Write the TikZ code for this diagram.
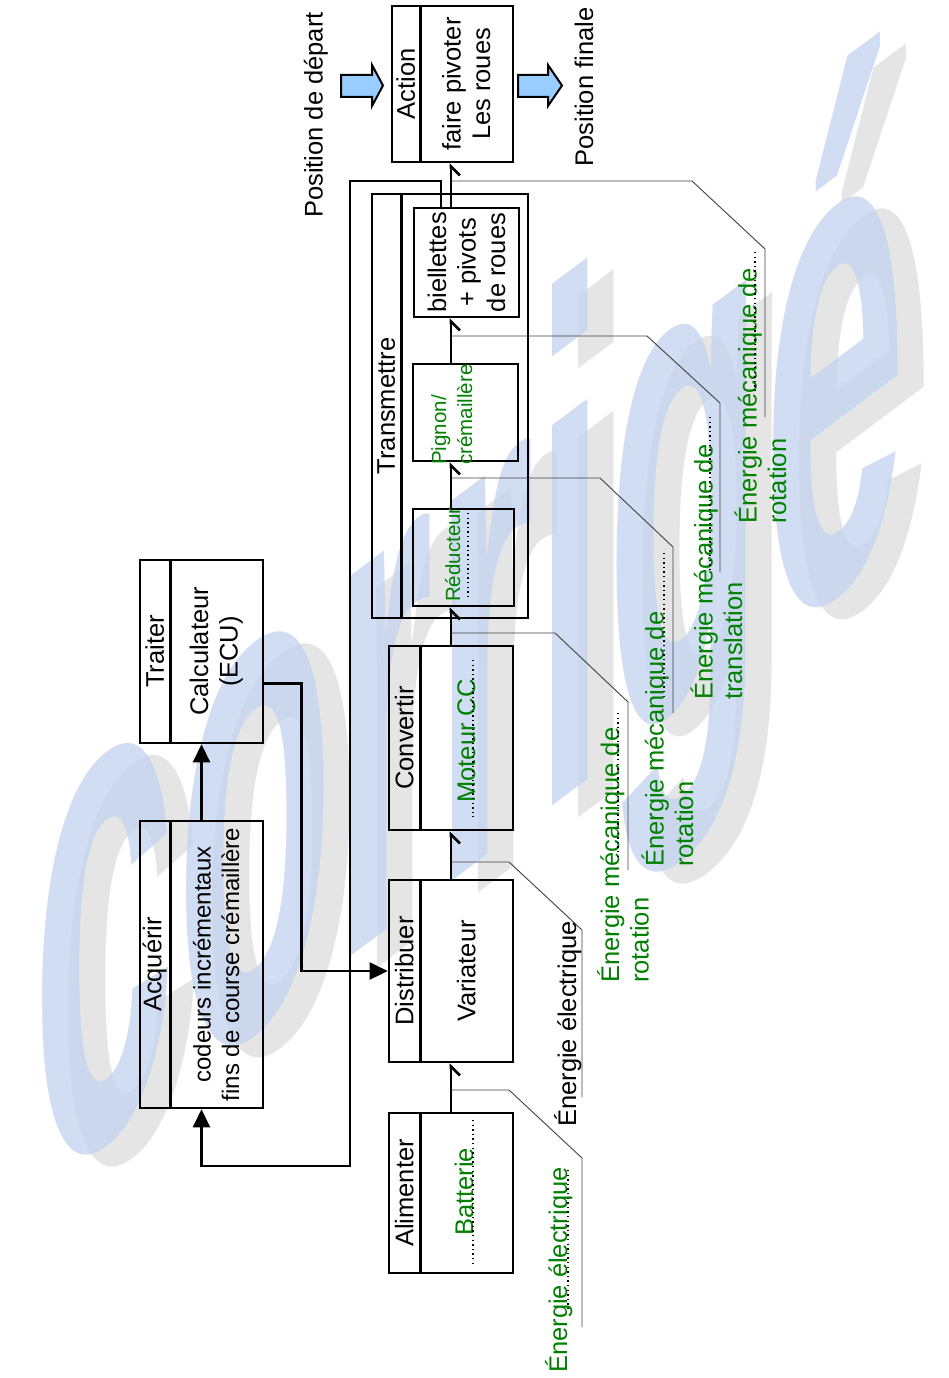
\documentclass[tikz,border=0pt]{standalone}
\usepackage{fontspec}
\setmainfont{Liberation Sans}
\usetikzlibrary{arrows.meta}
\definecolor{vertc}{RGB}{0,128,0}
\definecolor{bleuf}{RGB}{153,204,255}
\definecolor{bleuw}{RGB}{196,212,240}
\definecolor{grisw}{RGB}{222,222,222}

\begin{document}
\begin{tikzpicture}[x=1pt, y=-1pt, font=\fontsize{25.5}{29.5}\selectfont,
    boite/.style={draw, line width=2.6pt, inner sep=0pt},
    trait/.style={line width=2.6pt},
    titre/.style={rotate=90, inner sep=0pt},
    rep/.style={text=vertc},
    petit/.style={font=\fontsize{20.5}{26}\selectfont},
    flux/.style={line width=2.6pt, -{Straight Barb[right, length=9pt, width=18pt]}},
    info/.style={line width=2.6pt, -{Triangle[length=18pt, width=17pt]}},
    renvoi/.style={line width=0.9pt, black!75},
    blanc/.style={line width=1.3pt, dash pattern=on 1.3pt off 3.3pt},
    grosse/.style={draw, line width=2pt, fill=bleuf},
    filig/.style={yslant=0.75, xscale=0.86, yscale=2.4, font=\fontsize{300}{300}\selectfont\bfseries}]

    \useasboundingbox (0,0) rectangle (948,1378);

    % filigrane
    \node[filig, text=grisw, text opacity=0.8] (ombre) at (496,692) {corrigé};
    \node[filig, text=bleuw, text opacity=0.8] (filigrane) at (470,680) {corrigé};

    % chaine d'energie
    \node[boite, minimum width=121pt, minimum height=156pt] (act) at (452.5,84) {};
    \draw[trait] ([xshift=30pt]act.north west) -- ([xshift=30pt]act.south west);
    \node[titre] at ([xshift=15pt]act.west) {Action};
    \node[titre, align=center] at ([xshift=75.5pt]act.west) {faire pivoter\\Les roues};

    \node[boite, minimum width=156pt, minimum height=424pt] (trans) at (450,406) {};
    \draw[trait] ([xshift=31pt]trans.north west) -- ([xshift=31pt]trans.south west);
    \node[titre] at ([xshift=15.5pt]trans.west) {Transmettre};

    \node[boite, minimum width=105pt, minimum height=109pt] (biel) at (466.5,262.5) {};
    \node[titre, align=center] at (biel) {biellettes\\+ pivots\\de roues};
    \node[boite, minimum width=105pt, minimum height=97pt] (pign) at (465.5,412.5) {};
    \node[titre, rep, petit, align=left, anchor=base west] at (472,465) {Pignon/\\crémaillère};
    \node[boite, minimum width=101pt, minimum height=97pt] (redu) at (463.5,557.5) {};
    \node[titre, rep, petit, anchor=base west] at (460,602) {Réducteur};
    \draw[blanc] (468,513) -- (468,600);

    \node[boite, minimum width=124pt, minimum height=184pt] (conv) at (451,738) {};
    \draw[trait] ([xshift=33pt]conv.north west) -- ([xshift=33pt]conv.south west);
    \node[titre] at ([xshift=16.5pt]conv.west) {Convertir};
    \node[titre, rep, anchor=base] at (475,741) {Moteur CC};
    \draw[blanc] (473,660) -- (473,817);

    \node[boite, minimum width=124pt, minimum height=182pt] (dist) at (451,971) {};
    \draw[trait] ([xshift=33pt]dist.north west) -- ([xshift=33pt]dist.south west);
    \node[titre] at ([xshift=16.5pt]dist.west) {Distribuer};
    \node[titre] at ([xshift=78.5pt]dist.west) {Variateur};

    \node[boite, minimum width=124pt, minimum height=160pt] (alim) at (451,1193) {};
    \draw[trait] ([xshift=33pt]alim.north west) -- ([xshift=33pt]alim.south west);
    \node[titre] at ([xshift=16.5pt]alim.west) {Alimenter};
    \node[titre, rep, anchor=base] at (473,1192) {Batterie};
    \draw[blanc] (473,1120) -- (473,1263);

    % chaine d'information
    \node[boite, minimum width=123pt, minimum height=183pt] (trai) at (201.5,651.5) {};
    \draw[trait] ([xshift=32pt]trai.north west) -- ([xshift=32pt]trai.south west);
    \node[titre] at ([xshift=16pt]trai.west) {Traiter};
    \node[titre, align=center] at ([xshift=77.5pt]trai.west) {Calculateur\\(ECU)};

    \node[boite, minimum width=123pt, minimum height=287pt] (acq) at (201.5,964.5) {};
    \draw[trait] ([xshift=32pt]acq.north west) -- ([xshift=32pt]acq.south west);
    \node[titre] at ([xshift=16pt]acq.west) {Acquérir};
    \node[titre, align=center, font=\fontsize{24}{28.5}\selectfont] at ([xshift=77.5pt]acq.west) {codeurs incrémentaux\\fins de course crémaillère};

    \draw[info] (acq.north) -- (trai.south);
    \draw[info] ([yshift=-32pt]trai.east) -- ++(37,0) |- (dist.west);
    \draw[info] ([xshift=-25.5pt]biel.north) |- (350,181) -- (350,1166) -| (acq.south);

    \draw[flux] (alim.north) -- (dist.south);
    \draw[flux] (dist.north) -- (conv.south);
    \draw[flux] (conv.north) -- (conv.north |- redu.south);
    \draw[flux] (conv.north |- redu.north) -- (conv.north |- pign.south);
    \draw[flux] (conv.north |- pign.north) -- (conv.north |- biel.south);
    \draw[flux] (conv.north |- biel.north) -- (conv.north |- act.south);

    % renvois et energies
    \coordinate (p1) at (451,1090);
    \coordinate (p2) at (451,862);
    \coordinate (p3) at (451,633);
    \coordinate (p4) at (451,478);
    \coordinate (p5) at (451,336);
    \coordinate (p6) at (451,181);
    \draw[renvoi] (p1) -- ++(58,0) -- ++(73,68) -- ++(0,169);
    \draw[renvoi] (p2) -- ++(58,0) -- ++(73,68) -- ++(0,167);
    \draw[renvoi] (p3) -- ++(104,0) -- ++(73,69) -- ++(0,168);
    \draw[renvoi] (p4) -- ++(149,0) -- ++(73,69) -- ++(0,166);
    \draw[renvoi] (p5) -- ++(196,0) -- ++(73,67) -- ++(0,169);
    \draw[renvoi] (p6) -- ++(241,0) -- ++(73,68) -- ++(0,168);

    \node[titre, rep, anchor=base west] at (567,1373) {Énergie électrique};
    \draw[blanc] (568,1170) -- (568,1310);
    \node[titre, anchor=base west] at (576,1127) {Énergie électrique};
    \node[titre, rep, align=left, anchor=base west] at (648.5,983) {Énergie mécanique de\\rotation};
    \draw[blanc] (618,713) -- (618,857);
    \node[titre, rep, align=left, anchor=base west] at (693,867) {Énergie mécanique de\\rotation};
    \draw[blanc] (664,553) -- (664,700);
    \node[titre, rep, align=left, anchor=base west] at (742,700) {Énergie mécanique de\\translation};
    \draw[blanc] (710,417) -- (710,573);
    \node[titre, rep, align=left, anchor=base west] at (786,524) {Énergie mécanique de\\rotation};
    \draw[blanc] (755,252) -- (755,393);

    % positions
    \node[titre] at (316,115) {Position de départ};
    \node[titre] at (584,87) {Position finale};
    \draw[grosse] (341,75) -- (372,75) -- (372,65) -- (383,85.5) -- (372,106) -- (372,97) -- (341,97) -- cycle;
    \draw[grosse] (518,75) -- (548,75) -- (548,65) -- (562,85.5) -- (548,106) -- (548,97) -- (518,97) -- cycle;
\end{tikzpicture}
\end{document}
